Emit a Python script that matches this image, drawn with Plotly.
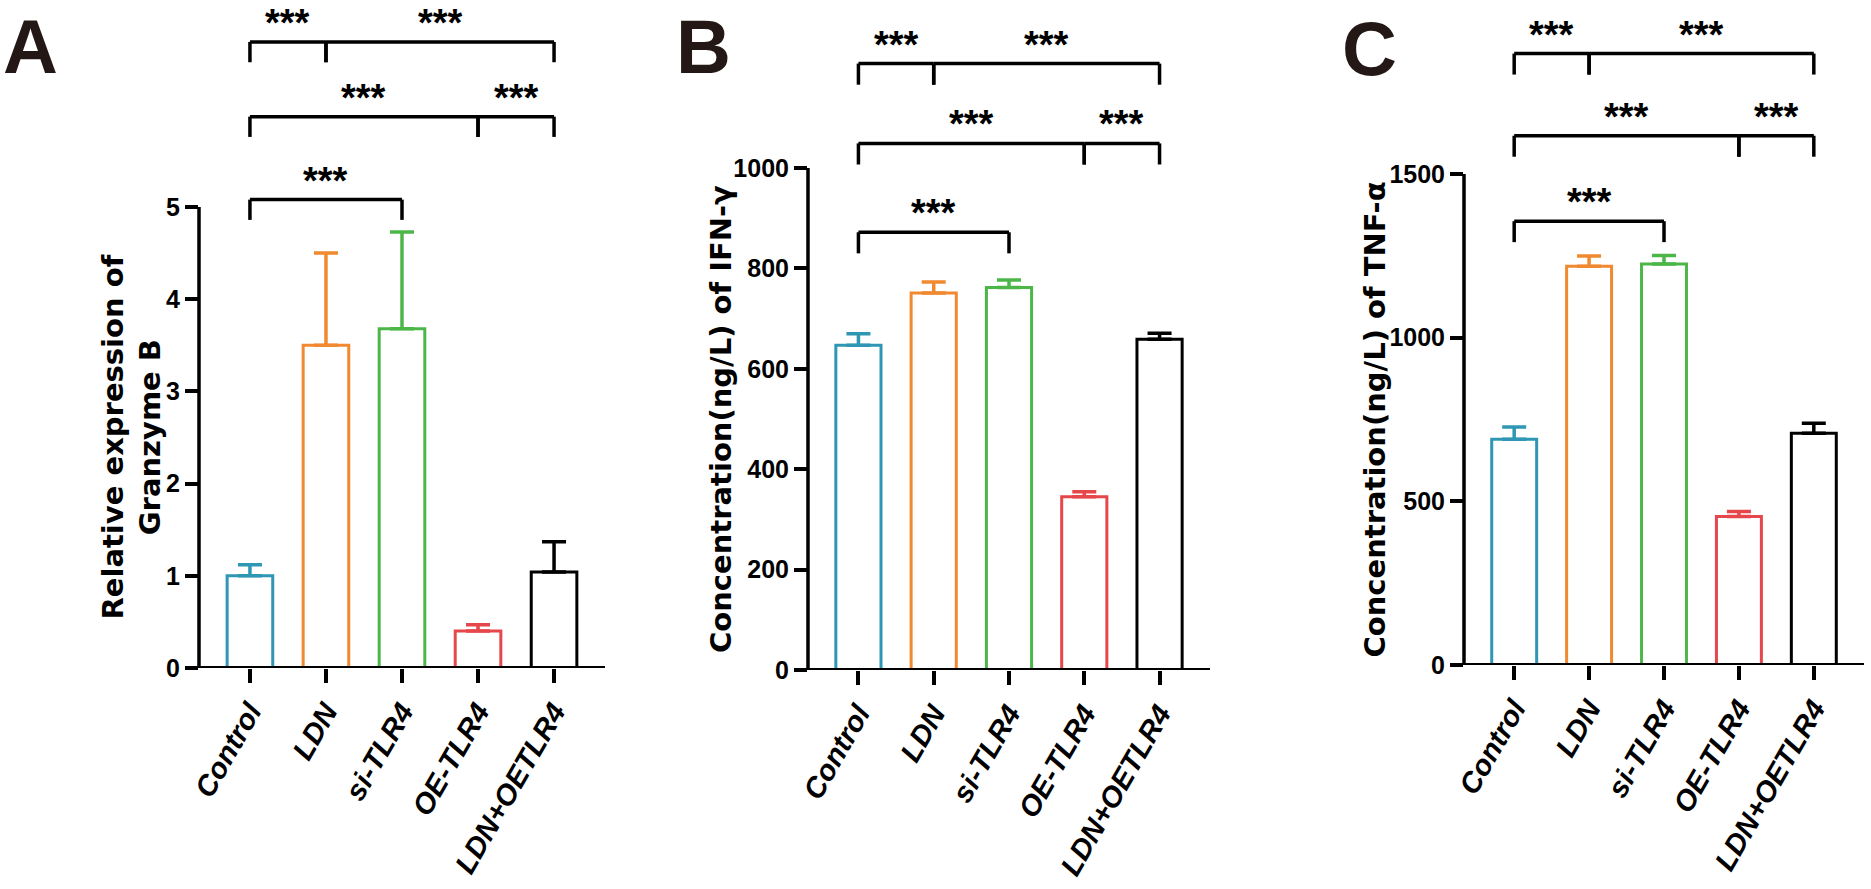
import plotly.graph_objects as go

# groups and colours shared by the three panels
groups = ['Control', 'LDN', 'si-TLR4', 'OE-TLR4', 'LDN+OETLR4']
colors = ['#2F96B4', '#F0892F', '#4CB748', '#E5474B', '#000000']

# A: Granzyme B relative expression
granzyme_mean = [1.00, 3.50, 3.68, 0.40, 1.04]
granzyme_err = [0.12, 1.00, 1.05, 0.07, 0.33]

# B: IFN-gamma (ng/L)
ifn_mean = [647, 751, 762, 345, 659]
ifn_err = [23, 22, 15, 10, 12]

# C: TNF-alpha (ng/L)
tnf_mean = [690, 1218, 1225, 454, 708]
tnf_err = [37, 32, 26, 15, 31]

# significance brackets: (from group, to group, row)
brackets = [(0, 1, 0), (1, 4, 0), (0, 3, 1), (3, 4, 1), (0, 2, 2)]

panels = [
    dict(letter='A', mean=granzyme_mean, err=granzyme_err,
         title='Relative expression of<br>Granzyme B',
         ticks=[0, 1, 2, 3, 4, 5], ymax=5, top=7.245,
         xdom=[0.10636, 0.32335], ydom=[0.24859, 1.0],
         rows=[6.79, 5.98, 5.08], drop=0.22,
         title_x=131, letter_x=31, letter_y=47),
    dict(letter='B', mean=ifn_mean, err=ifn_err,
         title='Concentration(ng/L) of IFN-γ',
         ticks=[0, 200, 400, 600, 800, 1000], ymax=1000, top=1334.7,
         xdom=[0.43185, 0.64671], ydom=[0.24634, 1.0],
         rows=[1208, 1049, 872], drop=42,
         title_x=721, letter_x=703, letter_y=46),
    dict(letter='C', mean=tnf_mean, err=tnf_err,
         title='Concentration(ng/L) of TNF-α',
         ticks=[0, 500, 1000, 1500], ymax=1500, top=2031.8,
         xdom=[0.78247, 0.99626], ydom=[0.25197, 1.0],
         rows=[1868, 1617, 1356], drop=64,
         title_x=1375, letter_x=1369, letter_y=48),
]

W, H = 1871, 889
LW = 3.5
arial = 'Liberation Sans, Arial, sans-serif'
wide = 'DejaVu Sans, Liberation Sans, Arial, sans-serif'

fig = go.Figure()
shapes = []
annotations = []

for k, p in enumerate(panels):
    sfx = '' if k == 0 else str(k + 1)
    xa, ya = 'x' + sfx, 'y' + sfx

    for i, g in enumerate(groups):
        fig.add_trace(go.Bar(
            x=[i], y=[p['mean'][i]], xaxis=xa, yaxis=ya, width=0.6,
            marker=dict(color='rgba(255,255,255,0)', line=dict(color=colors[i], width=3)),
            error_y=dict(type='data', symmetric=False, array=[p['err'][i]], arrayminus=[0],
                         color=colors[i], thickness=3.5, width=12),
            showlegend=False, name=g))

    fig.update_layout(**{
        'xaxis' + sfx: dict(domain=p['xdom'], anchor=ya, range=[-0.67, 4.67], automargin=False,
                            tickvals=list(range(len(groups))), ticktext=groups,
                            showline=False,
                            ticks='outside', ticklen=14, tickwidth=LW, tickcolor='black',
                            tickangle=-60, showgrid=False, zeroline=False,
                            tickfont=dict(family=arial, size=29, color='black',
                                          weight='bold', style='italic')),
        'yaxis' + sfx: dict(domain=p['ydom'], anchor=xa, range=[0, p['top']], automargin=False,
                            tickvals=p['ticks'], showline=False, showgrid=False, zeroline=False,
                            ticks='outside', ticklen=13, tickwidth=LW, tickcolor='black',
                            tickfont=dict(family=arial, size=25, color='black', weight='bold')),
    })

    # axis lines drawn over the bars; y axis only up to the last tick
    shapes.append(dict(type='line', xref=xa + ' domain', yref=ya, x0=0, x1=0,
                       y0=0, y1=p['ymax'], line=dict(color='black', width=LW)))
    shapes.append(dict(type='line', xref=xa + ' domain', yref=ya, x0=-0.005, x1=1,
                       y0=0, y1=0, line=dict(color='black', width=LW + 0.5)))

    for a, b, r in brackets:
        lev = p['rows'][r]
        low = lev - p['drop']
        for x0, y0, x1, y1 in [(a, low, a, lev), (a, lev, b, lev), (b, lev, b, low)]:
            shapes.append(dict(type='line', xref=xa, yref=ya, x0=x0, y0=y0, x1=x1, y1=y1,
                               line=dict(color='black', width=LW)))
        annotations.append(dict(x=(a + b) / 2, y=lev, xref=xa, yref=ya, text='***',
                                showarrow=False, yanchor='middle', yshift=19,
                                font=dict(family=arial, size=38, color='black', weight='bold')))

    annotations.append(dict(x=p['title_x'] / W, y=p['ymax'] / 2, xref='paper', yref=ya,
                            text=p['title'], textangle=-90, showarrow=False,
                            xanchor='center', yanchor='middle',
                            font=dict(family=wide, size=29, color='black', weight='bold')))
    annotations.append(dict(x=p['letter_x'] / W, y=1 - p['letter_y'] / H, xref='paper', yref='paper',
                            text=p['letter'], showarrow=False, xanchor='center', yanchor='middle',
                            font=dict(family=arial, size=76, color='#231815', weight='bold')))

fig.update_layout(width=W, height=H, margin=dict(l=0, r=0, t=0, b=0, pad=0),
                  paper_bgcolor='white', plot_bgcolor='white',
                  shapes=shapes, annotations=annotations, barmode='overlay')

fig.write_html('out.html', config={'displayModeBar': False},
               post_script="document.body.style.margin='0px';")
